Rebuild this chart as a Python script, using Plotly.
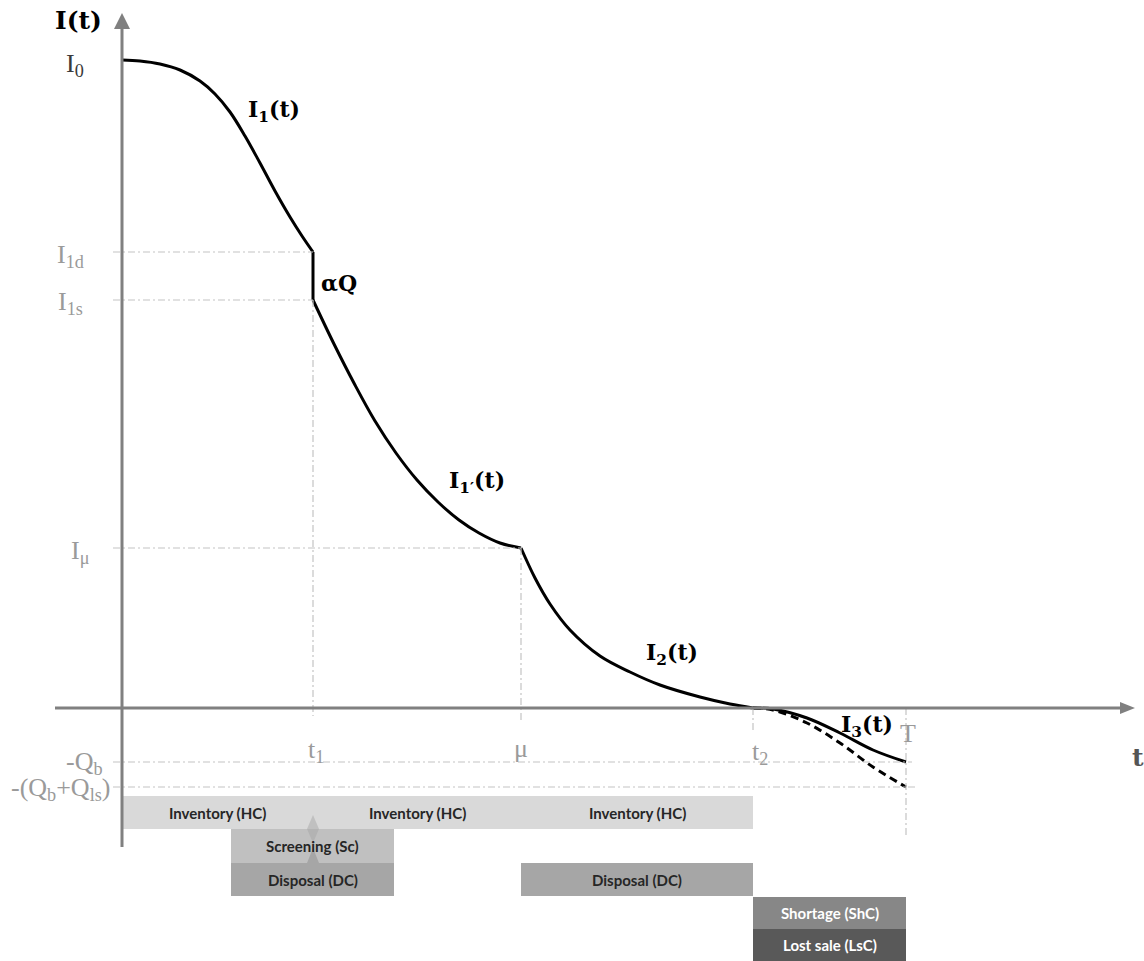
import plotly.graph_objects as go

# ---- key instants on the time axis ----
t1 = 191      # end of screening
mu = 399      # end of the first cycle part
t2 = 631      # stock reaches zero
T = 784       # end of the cycle
ts_start, ts_end = 109, 272   # screening / disposal window around t1

# ---- key inventory levels ----
I0 = 648
I1d = 456
I1s = 408
Imu = 160
Qb = 54
Qls = 25

# ---- inventory curve pieces ----
I1_t = [0, 18, 38, 58, 78, 93, 108, 123, 138, 153, 168, 180, 191]
I1_v = [648, 647, 644, 638, 627, 614, 596, 572, 545, 517, 491, 472, 456]

I1p_t = [191, 212, 233, 253, 274, 295, 316, 337, 357, 378, 399]
I1p_v = [408, 364, 323, 287, 255, 228, 206, 188, 175, 165, 160]

I2_t = [399, 413, 428, 448, 478, 508, 538, 578, 608, 631]
I2_v = [160, 130, 104, 78, 52, 36, 23, 11, 4, 0]

I3_t = [631, 651, 685, 718, 751, 784]
I3_v = [0, -1, -10, -25, -42, -54]
I3_lost_v = [0, -2, -15, -35, -59, -79]

# ---- cost bands under the axis ----
band_names = ["Inventory (HC)", "Inventory (HC)", "Inventory (HC)",
              "Screening (Sc)", "Disposal (DC)", "Disposal (DC)",
              "Shortage (ShC)", "Lost sale (LsC)"]
band_start = [0, t1, mu, ts_start, ts_start, mu, t2, t2]
band_end = [t1, mu, t2, ts_end, ts_end, t2, T, T]
band_row = [0, 0, 0, 1, 2, 2, 3, 4]
row_colors = ["#d9d9d9", "#c0c0c0", "#a6a6a6", "#878787", "#595959"]
row_text = ["#262626", "#262626", "#262626", "#ffffff", "#ffffff"]
row_top = [-88, -121, -155, -189, -221]
row_bot = [-121, -155, -188, -221, -253]

W, H = 1144, 961
x0_px, y0_px = 122, 708

AX = "#808080"
GUIDE = "#c4c4c4"
LBL = "#9a9a9a"
SERIF = "Liberation Serif"
BOLD_SERIF = "DejaVu Serif"

fig = go.Figure()

curve = dict(color="black", width=3, shape="spline", smoothing=1.0)
for xs, ys in [(I1_t, I1_v), (I1p_t, I1p_v), (I2_t, I2_v), (I3_t, I3_v)]:
    fig.add_trace(go.Scatter(x=xs, y=ys, mode="lines", line=curve,
                             hoverinfo="skip", showlegend=False))
fig.add_trace(go.Scatter(x=I3_t, y=I3_lost_v, mode="lines",
                         line=dict(color="black", width=3, dash="8px,5px",
                                   shape="spline", smoothing=1.0),
                         hoverinfo="skip", showlegend=False))
# vertical drop alpha*Q at t1
fig.add_trace(go.Scatter(x=[t1, t1], y=[I1d, I1s], mode="lines",
                         line=dict(color="black", width=3),
                         hoverinfo="skip", showlegend=False))

shapes = []

# cost bands (drawn first so guides / axes sit on top)
for name, a, b, r in zip(band_names, band_start, band_end, band_row):
    shapes.append(dict(type="rect", x0=a, x1=b, y0=row_bot[r], y1=row_top[r],
                       line=dict(width=0), fillcolor=row_colors[r], layer="below"))
# arrows linking disposal -> screening -> inventory at t1
shapes.append(dict(type="path",
                   path=f"M {t1-6},{row_top[1]} L {t1},{row_top[1]+14} L {t1+6},{row_top[1]} Z",
                   line=dict(width=0), fillcolor=row_colors[1], layer="below"))
shapes.append(dict(type="path",
                   path=f"M {t1-6},{row_top[2]} L {t1},{row_top[2]+15} L {t1+6},{row_top[2]} Z",
                   line=dict(width=0), fillcolor=row_colors[2], layer="below"))
shapes.append(dict(type="path",
                   path=f"M {t1-6},{row_top[1]} L {t1},{row_top[1]-14} L {t1+6},{row_top[1]} Z",
                   line=dict(width=0), fillcolor="#b3b3b3", layer="below"))

guide = dict(color=GUIDE, width=1.2, dash="7px,3px,2px,3px")
left = -9
# horizontal guides
for lvl, xe in [(I1d, t1), (I1s, t1), (Imu, mu), (-Qb, T + 6), (-(Qb + Qls), T + 11)]:
    shapes.append(dict(type="line", x0=left, x1=xe, y0=lvl, y1=lvl, line=guide))
# vertical guides
for xv, ya, yb in [(t1, I1s, -8), (mu, Imu, -15), (t2, 0, -22), (T, 0, -129)]:
    shapes.append(dict(type="line", x0=xv, x1=xv, y0=ya, y1=yb, line=guide))

# axes with arrow heads
shapes.append(dict(type="line", x0=-67, x1=1000, y0=0, y1=0, line=dict(color=AX, width=3)))
shapes.append(dict(type="path", path="M 998,6 L 1013,0 L 998,-6 Z",
                   line=dict(width=0), fillcolor=AX))
shapes.append(dict(type="line", x0=0, x1=0, y0=-139, y1=680, line=dict(color=AX, width=3)))
shapes.append(dict(type="path", path="M -8,679 L 0,695 L 8,679 Z",
                   line=dict(width=0), fillcolor=AX))

ann = []


def label(x, y, text, size=26, color=LBL, family=SERIF, xanchor="center", bold=False):
    ann.append(dict(x=x, y=y, xref="x", yref="y", text=text, showarrow=False,
                    xanchor=xanchor, yanchor="middle",
                    font=dict(family=family, size=size, color=color,
                              weight="bold" if bold else "normal")))


# axis titles
label(-44, 688, "I(t)", size=25, color="black", family=BOLD_SERIF, bold=True)
label(1016, -49, "t", size=25, color="#555555", family=BOLD_SERIF, bold=True)

# level labels
label(-47, 643, "I<sub>0</sub>", color="#3a3a3a")
label(-52, 452, "I<sub>1d</sub>")
label(-52, 405, "I<sub>1s</sub>")
label(-42, 156, "I<sub>μ</sub>")
label(-38, -55, "-Q<sub>b</sub>")
label(-62, -81, "-(Q<sub>b</sub>+Q<sub>ls</sub>)")

# time labels
label(t1 + 3, -43, "t<sub>1</sub>")
label(mu, -40, "μ")
label(t2 + 7, -45, "t<sub>2</sub>")
label(T + 2, -25, "T")

# curve labels
label(152, 597, "I<sub>1</sub>(t)", size=22, color="black", family=BOLD_SERIF, bold=True)
label(217, 425, "αQ", size=22, color="black", family=BOLD_SERIF, bold=True)
label(355, 226, "I<sub>1′</sub>(t)", size=22, color="black", family=BOLD_SERIF, bold=True)
label(550, 54, "I<sub>2</sub>(t)", size=22, color="black", family=BOLD_SERIF, bold=True)
label(745, -18, "I<sub>3</sub>(t)", size=22, color="black", family=BOLD_SERIF, bold=True)

# band captions
for name, a, b, r in zip(band_names, band_start, band_end, band_row):
    label((a + b) / 2, (row_top[r] + row_bot[r]) / 2, name, size=15,
          color=row_text[r], family="Lato", bold=True)

fig.update_layout(
    width=W, height=H,
    margin=dict(l=0, r=0, t=0, b=0),
    paper_bgcolor="white", plot_bgcolor="white",
    xaxis=dict(range=[-x0_px, W - x0_px], visible=False, fixedrange=True),
    yaxis=dict(range=[y0_px - H, y0_px], visible=False, fixedrange=True),
    shapes=shapes, annotations=ann, showlegend=False,
)

fig.write_html("out.html")
